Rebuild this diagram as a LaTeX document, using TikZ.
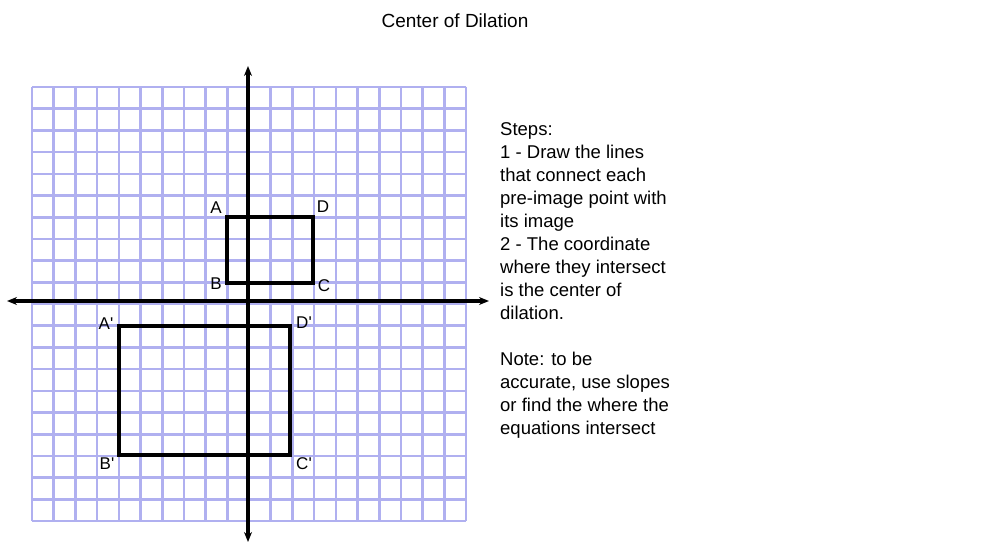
\documentclass[tikz,border=0pt]{standalone}
\usepackage{fontspec}
\setmainfont{Liberation Sans}
\usetikzlibrary{arrows.meta}
\begin{document}
\begin{tikzpicture}[x=1pt,y=-1pt,
  gridl/.style={draw=gridc,line width=2.6pt},
  axis/.style={line width=3.4pt,{Stealth[length=10pt,width=8pt]}-{Stealth[length=10pt,width=8pt]}},
  rectline/.style={line width=3.4pt},
  lab/.style={font=\fontsize{17}{17}\selectfont},
  txt/.style={font=\fontsize{18.5}{23}\selectfont,align=left,anchor=north west,inner sep=0pt}]
\definecolor{gridc}{RGB}{176,176,240}
\useasboundingbox[fill=white] (0,0) rectangle (996,559);
\foreach \i in {0,...,20}{
  \draw[gridl] (32+\i*21.7,87) -- (32+\i*21.7,521);
  \draw[gridl] (32,87+\i*21.7) -- (466,87+\i*21.7);
}
\coordinate (xl) at (7,301); \coordinate (xr) at (489,301);
\coordinate (yt) at (248,66); \coordinate (yb) at (248,542);
\draw[axis] (xl) -- (xr);
\draw[axis] (yt) -- (yb);
\coordinate (A) at (227,217); \coordinate (D) at (313,217);
\coordinate (C) at (313,283); \coordinate (B) at (227,283);
\draw[rectline] (A) -- (D) -- (C) -- (B) -- cycle;
\coordinate (A2) at (119,326); \coordinate (D2) at (290,326);
\coordinate (C2) at (290,455); \coordinate (B2) at (119,455);
\draw[rectline] (A2) -- (D2) -- (C2) -- (B2) -- cycle;
\node[lab] (la) at (216,208) {A};
\node[lab] (ld) at (323,207) {D};
\node[lab] (lb) at (216,284) {B};
\node[lab] (lc) at (324,286) {C};
\node[lab] (la2) at (106,324) {A\textquotesingle};
\node[lab] (ld2) at (304,323) {D\textquotesingle};
\node[lab] (lb2) at (107,464) {B\textquotesingle};
\node[lab] (lc2) at (304,464) {C\textquotesingle};
\node[font=\fontsize{19}{19}\selectfont] (title) at (455,21) {Center of Dilation};
\node[txt] (steps) at (500,122) {Steps:\\1 - Draw the lines\\that connect each\\pre-image point with\\its image\\2 - The coordinate\\where they intersect\\is the center of\\dilation.\\[23pt]Note: to be\\accurate, use slopes\\or find the where the\\equations intersect};
\end{tikzpicture}
\end{document}
